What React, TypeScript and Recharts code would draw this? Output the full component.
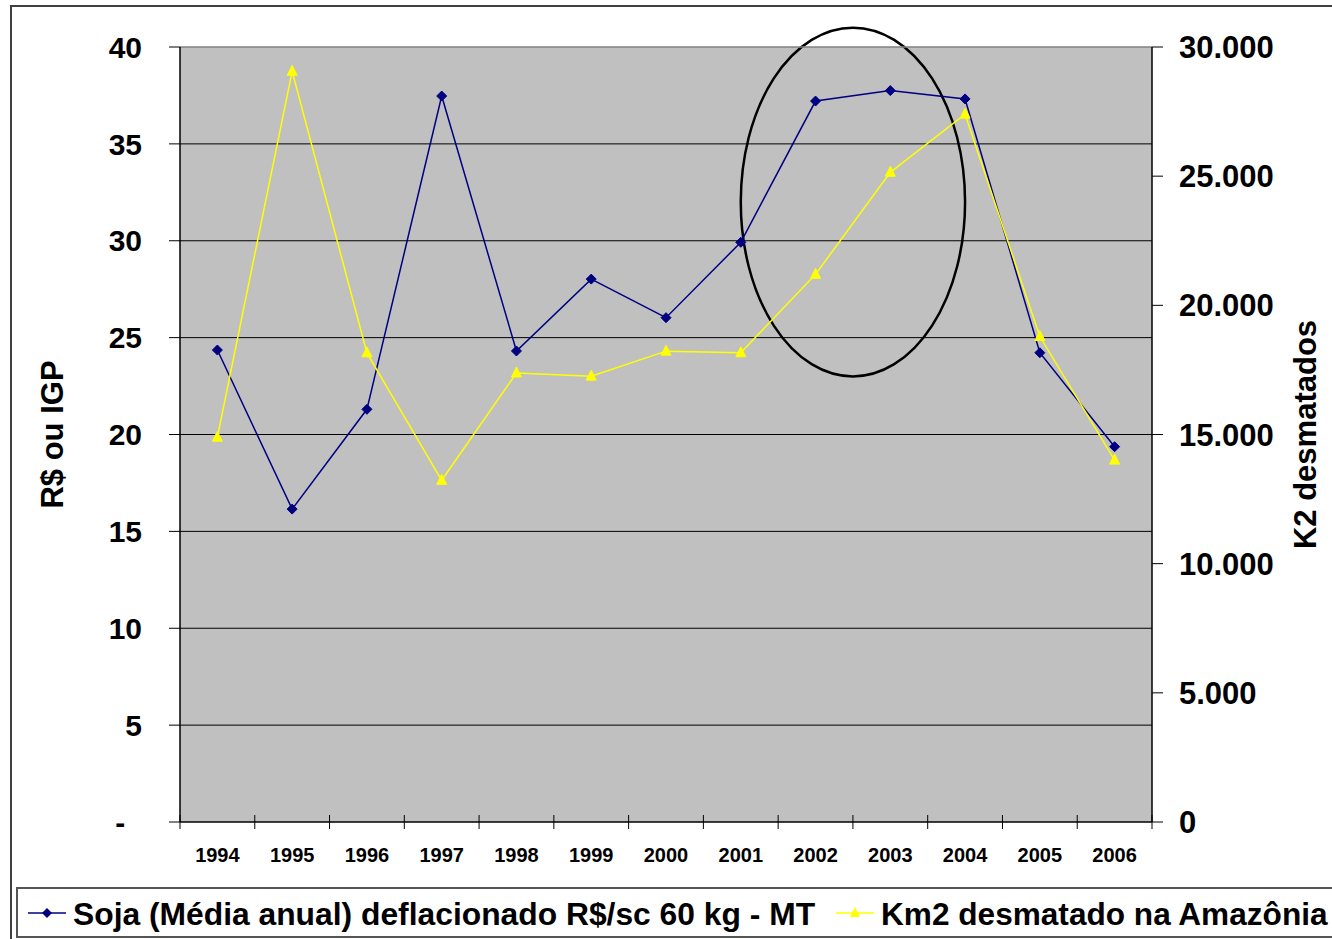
import React from 'react';
import {
  ComposedChart, Line, XAxis, YAxis, CartesianGrid, ReferenceArea, ReferenceLine,
} from 'recharts';

const years = ['1994', '1995', '1996', '1997', '1998', '1999', '2000', '2001', '2002', '2003', '2004', '2005', '2006'];
const sojaPrice = [24.36, 16.15, 21.3, 37.47, 24.31, 28.02, 26.03, 29.92, 37.21, 37.75, 37.32, 24.22, 19.37];
const deforestKm2 = [14896, 29059, 18161, 13227, 17383, 17259, 18226, 18165, 21200, 25150, 27400, 18793, 14010];
const leftTicks = [0, 5, 10, 15, 20, 25, 30, 35, 40];
const rightTicks = [0, 5000, 10000, 15000, 20000, 25000, 30000];
const gridValues = [5, 10, 15, 20, 25, 30, 35];
const highlightFrom = '2001';
const highlightTo = '2004';
const highlightLow = 23;
const highlightHigh = 41;

const legendSoja = 'Soja (Média anual) deflacionado R$/sc 60 kg - MT';
const legendKm2 = 'Km2 desmatado na Amazônia';
const leftTitle = 'R$ ou IGP';
const rightTitle = 'K2 desmatados';

const data = years.map((y, i) => ({ year: y, soja: sojaPrice[i], km2: deforestKm2[i] }));

const FONT = '"Liberation Sans", Arial, sans-serif';
const BLUE = '#000080';
const YELLOW = '#FFFF00';
const W = 1332;
const H = 939;
const PLOT_LEFT = 180;
const PLOT_RIGHT = 1152;
const BAND = (PLOT_RIGHT - PLOT_LEFT) / years.length;

const Diamond = (props: any) => {
  const { cx, cy, index } = props;
  if (cx == null || cy == null) return <g key={`d-${index}`} />;
  const s = 5;
  return (
    <polygon
      key={`d-${index}`}
      points={`${cx},${cy - s} ${cx + s},${cy} ${cx},${cy + s} ${cx - s},${cy}`}
      fill={BLUE}
      stroke={BLUE}
      strokeWidth={1}
    />
  );
};

const Triangle = (props: any) => {
  const { cx, cy, index } = props;
  if (cx == null || cy == null) return <g key={`t-${index}`} />;
  return (
    <polygon
      key={`t-${index}`}
      points={`${cx},${cy - 6} ${cx + 5},${cy + 4} ${cx - 5},${cy + 4}`}
      fill={YELLOW}
      stroke={YELLOW}
      strokeWidth={1}
    />
  );
};

const XTick = (props: any) => {
  const { x, y, payload, index } = props;
  const left = x - BAND / 2;
  const right = x + BAND / 2;
  return (
    <g>
      <line x1={left} y1={y - 7} x2={left} y2={y + 7} stroke="#000" strokeWidth={1} />
      {index === years.length - 1 && (
        <line x1={right} y1={y - 7} x2={right} y2={y + 7} stroke="#000" strokeWidth={1} />
      )}
      <text x={x} y={y + 40} textAnchor="middle" fontFamily={FONT} fontWeight="bold" fontSize={20} fill="#000">
        {payload.value}
      </text>
    </g>
  );
};

const EllipseShape = (props: any) => {
  const { x, y, width, height } = props;
  if (x == null) return <g />;
  const cx = x + width / 2;
  const cy = y + height / 2;
  const rx = (width * 3) / 8;
  const ry = Math.abs(height) / 2;
  return <ellipse cx={cx} cy={cy} rx={rx} ry={ry} fill="none" stroke="#000" strokeWidth={2.5} />;
};

const LeftTitle = (props: any) => {
  const vb = props.viewBox || { x: 120, y: 47, width: 60, height: 775 };
  const cx = vb.x - 68;
  const cy = vb.y + vb.height / 2;
  return (
    <text x={cx} y={cy} transform={`rotate(-90 ${cx} ${cy})`} textAnchor="middle" dominantBaseline="central"
      fontFamily={FONT} fontWeight="bold" fontSize={31} fill="#000">
      {leftTitle}
    </text>
  );
};

const RightTitle = (props: any) => {
  const vb = props.viewBox || { x: 1152, y: 47, width: 150, height: 775 };
  const cx = vb.x + 153;
  const cy = vb.y + vb.height / 2;
  return (
    <text x={cx} y={cy} transform={`rotate(-90 ${cx} ${cy})`} textAnchor="middle" dominantBaseline="central"
      fontFamily={FONT} fontWeight="bold" fontSize={31} fill="#000">
      {rightTitle}
    </text>
  );
};

const fmtLeft = (v: number) => (v === 0 ? '-\u00A0\u00A0' : String(v));
const fmtRight = (v: number) => (v === 0 ? '0' : `${Math.round(v / 1000)}.000`);

export default function App() {
  return (
    <div style={{ position: 'absolute', left: 0, top: 0, width: W, height: H, overflow: 'hidden', background: '#fff' }}>
      <div style={{ position: 'absolute', left: 10, top: 5, width: W + 20, height: H + 20, border: '2px solid #404040', boxSizing: 'border-box' }} />
      <div style={{ position: 'absolute', left: 0, top: 0 }}>
        <ComposedChart width={W} height={H} data={data} margin={{ top: 47, right: 30, bottom: 77, left: 120 }}>
          <CartesianGrid yAxisId="left" vertical={false} fill="#C0C0C0" stroke="#000" strokeWidth={1} horizontalValues={gridValues} />
          <XAxis
            dataKey="year"
            scale="band"
            interval={0}
            tickLine={false}
            tickSize={0}
            tickMargin={0}
            height={40}
            axisLine={{ stroke: '#000', strokeWidth: 1.5 }}
            tick={<XTick />}
          />
          <YAxis
            yAxisId="left"
            domain={[0, 40]}
            ticks={leftTicks}
            allowDataOverflow
            width={60}
            tickSize={11}
            tickMargin={27}
            axisLine={{ stroke: '#000', strokeWidth: 1.5 }}
            tickLine={{ stroke: '#000' }}
            tick={{ fontSize: 30, fontWeight: 700, fill: '#000', fontFamily: FONT }}
            tickFormatter={fmtLeft}
            label={<LeftTitle />}
          />
          <YAxis
            yAxisId="right"
            orientation="right"
            domain={[0, 30000]}
            ticks={rightTicks}
            allowDataOverflow
            width={150}
            tickSize={11}
            tickMargin={16}
            axisLine={{ stroke: '#000', strokeWidth: 1.5 }}
            tickLine={{ stroke: '#000' }}
            tick={{ fontSize: 31, fontWeight: 700, fill: '#000', fontFamily: FONT }}
            tickFormatter={fmtRight}
            label={<RightTitle />}
          />
          <ReferenceLine yAxisId="left" y={40} stroke="#808080" strokeWidth={1.5} />
          <Line
            yAxisId="left"
            type="linear"
            dataKey="soja"
            stroke={BLUE}
            strokeWidth={1.5}
            dot={(p: any) => <Diamond key={`dd-${p.index}`} {...p} />}
            activeDot={false}
            isAnimationActive={false}
          />
          <Line
            yAxisId="right"
            type="linear"
            dataKey="km2"
            stroke={YELLOW}
            strokeWidth={1.5}
            dot={(p: any) => <Triangle key={`tt-${p.index}`} {...p} />}
            activeDot={false}
            isAnimationActive={false}
          />
          <ReferenceArea
            yAxisId="left"
            x1={highlightFrom}
            x2={highlightTo}
            y1={highlightLow}
            y2={highlightHigh}
            ifOverflow="visible"
            shape={<EllipseShape />}
          />
        </ComposedChart>
      </div>
      <svg width={W} height={H} style={{ position: 'absolute', left: 0, top: 0, pointerEvents: 'none' }}>
        <rect x={17} y={888} width={W + 20} height={49} fill="none" stroke="#555" strokeWidth={2} />
        <line x1={28} y1={913} x2={66} y2={913} stroke={BLUE} strokeWidth={1.5} />
        <polygon points="47,908 52,913 47,918 42,913" fill={BLUE} />
        <text x={73} y={925} fontFamily={FONT} fontWeight="bold" fontSize={31.8} fill="#000">{legendSoja}</text>
        <line x1={836} y1={913} x2={874} y2={913} stroke={YELLOW} strokeWidth={1.5} />
        <polygon points="855,907 860,917 850,917" fill={YELLOW} />
        <text x={881} y={925} fontFamily={FONT} fontWeight="bold" fontSize={31.6} fill="#000">{legendKm2}</text>
      </svg>
    </div>
  );
}
